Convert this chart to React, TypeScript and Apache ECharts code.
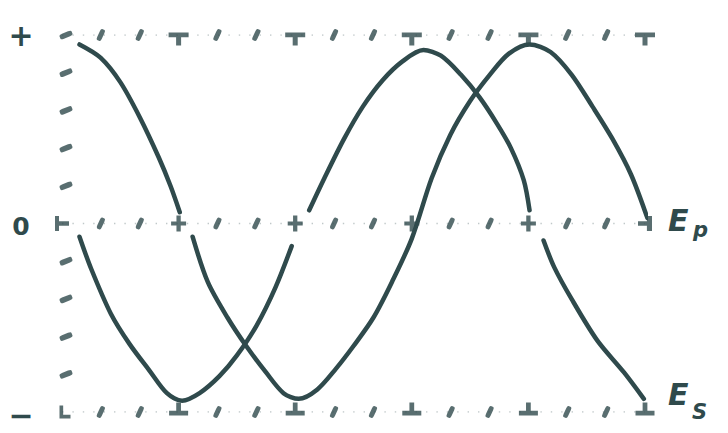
import React, { useEffect, useRef } from "react";
import * as echarts from "echarts";

// ---- data (x in quarter-periods, y in amplitude units) ----
const epX = [0.15, 0.33, 0.5, 0.67, 0.83, 0.93, 1.01, 1.06, 1.12, 1.25, 1.42, 1.58, 1.75, 1.9, 2.03, 2.19, 2.35, 2.5, 2.67, 2.83, 3.0, 3.17, 3.33, 3.5, 3.67, 3.83, 4.01, 4.19, 4.37, 4.55, 4.72, 4.88, 5.02];
const epY = [0.95, 0.88, 0.75, 0.56, 0.35, 0.2, 0.06, null, -0.07, -0.31, -0.5, -0.65, -0.79, -0.9, -0.93, -0.88, -0.77, -0.65, -0.5, -0.31, -0.08, 0.24, 0.47, 0.65, 0.79, 0.9, 0.95, 0.91, 0.79, 0.62, 0.45, 0.26, 0.03];

const esX = [0.15, 0.25, 0.42, 0.58, 0.75, 0.9, 1.03, 1.18, 1.35, 1.5, 1.67, 1.83, 1.97, 2.05, 2.12, 2.25, 2.42, 2.58, 2.75, 2.92, 3.1, 3.25, 3.42, 3.58, 3.73, 3.85, 3.96, 4.01, 4.07, 4.13, 4.22, 4.37, 4.59, 4.82, 4.99];
const esY = [-0.07, -0.24, -0.48, -0.64, -0.78, -0.9, -0.94, -0.9, -0.81, -0.7, -0.54, -0.34, -0.12, null, 0.07, 0.24, 0.45, 0.62, 0.76, 0.86, 0.92, 0.89, 0.79, 0.67, 0.53, 0.4, 0.23, 0.07, null, -0.09, -0.23, -0.4, -0.62, -0.79, -0.93];

const minorX = [0.333, 0.667, 1.333, 1.667, 2.333, 2.667, 3.333, 3.667, 4.333, 4.667];
const majorX = [1, 2, 3, 4, 5];
const levels = [1, 0, -1];
const leftTickY = [1, 0.8, 0.6, 0.4, 0.2, -0.2, -0.4, -0.6, -0.8];
const yTickLabels: Record<string, string> = { "1": "{p|+}", "0": "{z|0}", "-1": "{m|−}" };
const seriesNames = ["E_p", "E_s"];

const INK = "#2f4a4c";

const P_T = "path://M0,0 L16,0 L16,4 L10,4 L10,11 L6,11 L6,4 L0,4 Z";
const P_INVT = "path://M6,0 L10,0 L10,7 L16,7 L16,11 L0,11 L0,7 L6,7 Z";
const P_PLUS = "path://M5,0 L9,0 L9,6 L14,6 L14,10 L9,10 L9,16 L5,16 L5,10 L0,10 L0,6 L5,6 Z";
const P_LTEE = "path://M0,0 L4,0 L4,5 L14,5 L14,9 L4,9 L4,14 L0,14 Z";
const P_RTEE = "path://M10,0 L14,0 L14,14 L10,14 L10,9 L3,9 L3,5 L10,5 Z";
const P_L = "path://M0,0 L4,0 L4,10 L12,10 L12,14 L0,14 Z";

function toLine(xs: number[], ys: (number | null)[]) {
  return xs.map((x, i) => [x, ys[i] === null ? "-" : ys[i]]);
}

export default function App() {
  const ref = useRef<HTMLDivElement>(null);
  useEffect(() => {
    if (!ref.current) return;
    const chart = echarts.init(ref.current, undefined, { renderer: "svg" });
    const minorPts = levels.flatMap((l) => minorX.map((x) => [x, l]));
    const inner = majorX.filter((x) => x < 5);
    chart.setOption({
      animation: false,
      backgroundColor: "#ffffff",
      grid: { left: 62, right: 83, top: 35, bottom: 21 },
      xAxis: { type: "value", min: 0, max: 5, show: false },
      yAxis: {
        type: "value",
        min: -1,
        max: 1,
        interval: 1,
        axisLine: { show: false },
        axisTick: { show: false },
        splitLine: { show: false },
        axisLabel: {
          margin: 41,
          align: "center",
          formatter: (v: number) => yTickLabels[String(v)] || "",
          rich: {
            p: { fontFamily: "DejaVu Sans", fontWeight: "bold", fontSize: 30, color: INK },
            z: { fontFamily: "DejaVu Sans", fontWeight: "bold", fontSize: 25, color: INK, padding: [6, 0, 0, 0] },
            m: { fontFamily: "DejaVu Sans", fontWeight: "bold", fontSize: 30, color: INK, padding: [6, 0, 0, 0] },
          },
        },
      },
      series: [
        {
          name: "dots",
          type: "line",
          silent: true,
          showSymbol: false,
          data: [[0, 1], [5, 1], [5, "-"], [0, 0], [5, 0], [5, "-"], [0, -1], [5, -1]],
          lineStyle: { color: INK, width: 1.4, type: [1.4, 9], opacity: 0.3 },
        },
        {
          name: seriesNames[0],
          type: "line",
          smooth: 0.3,
          showSymbol: false,
          data: toLine(epX, epY),
          lineStyle: { color: INK, width: 4.5, cap: "round", join: "round" },
        },
        {
          name: seriesNames[1],
          type: "line",
          smooth: 0.3,
          showSymbol: false,
          data: toLine(esX, esY),
          lineStyle: { color: INK, width: 4.5, cap: "round", join: "round" },
        },
        {
          name: "minor",
          type: "scatter",
          silent: true,
          symbol: "roundRect",
          symbolSize: [5, 12],
          symbolRotate: -25,
          itemStyle: { color: INK },
          data: minorPts,
        },
        {
          name: "leftTicks",
          type: "scatter",
          silent: true,
          symbol: "roundRect",
          symbolSize: [13, 5.5],
          symbolRotate: 22,
          symbolOffset: [4, 0],
          itemStyle: { color: INK },
          data: leftTickY.map((y) => [0, y]),
        },
        {
          name: "topMajor",
          type: "scatter",
          silent: true,
          symbol: P_T,
          symbolSize: [20, 13],
          symbolOffset: [0, 4],
          itemStyle: { color: INK },
          data: majorX.map((x) => [x, 1]),
        },
        {
          name: "midMajor",
          type: "scatter",
          silent: true,
          symbol: P_PLUS,
          symbolSize: [15, 16],
          itemStyle: { color: INK },
          data: inner.map((x) => [x, 0]),
        },
        {
          name: "midEnds",
          type: "scatter",
          silent: true,
          symbol: (v: number[]) => (v[0] === 0 ? P_LTEE : P_RTEE),
          symbolSize: [14, 15],
          itemStyle: { color: INK },
          data: [[0, 0], [5, 0]],
        },
        {
          name: "botMajor",
          type: "scatter",
          silent: true,
          symbol: P_INVT,
          symbolSize: [19, 13],
          symbolOffset: [0, -3],
          itemStyle: { color: INK },
          data: majorX.map((x) => [x, -1]),
        },
        {
          name: "botStart",
          type: "scatter",
          silent: true,
          symbol: P_L,
          symbolSize: [11, 13],
          symbolOffset: [3, 0],
          itemStyle: { color: INK },
          data: [[0, -1]],
        },
      ],
      graphic: [
        { type: "text", x: 668, y: 220, style: { text: "E", font: "italic bold 30px 'DejaVu Sans'", fill: INK, verticalAlign: "middle" } },
        { type: "text", x: 693, y: 230, style: { text: "p", font: "italic bold 21px 'DejaVu Sans'", fill: INK, verticalAlign: "middle" } },
        { type: "text", x: 668, y: 394, style: { text: "E", font: "italic bold 30px 'DejaVu Sans'", fill: INK, verticalAlign: "middle" } },
        { type: "text", x: 692, y: 412, style: { text: "S", font: "italic bold 21px 'DejaVu Sans'", fill: INK, verticalAlign: "middle" } },
      ],
    });
    return () => chart.dispose();
  }, []);
  return (
    <div
      ref={ref}
      style={{ position: "absolute", left: 0, top: 0, width: 728, height: 433, background: "#fff" }}
    />
  );
}
